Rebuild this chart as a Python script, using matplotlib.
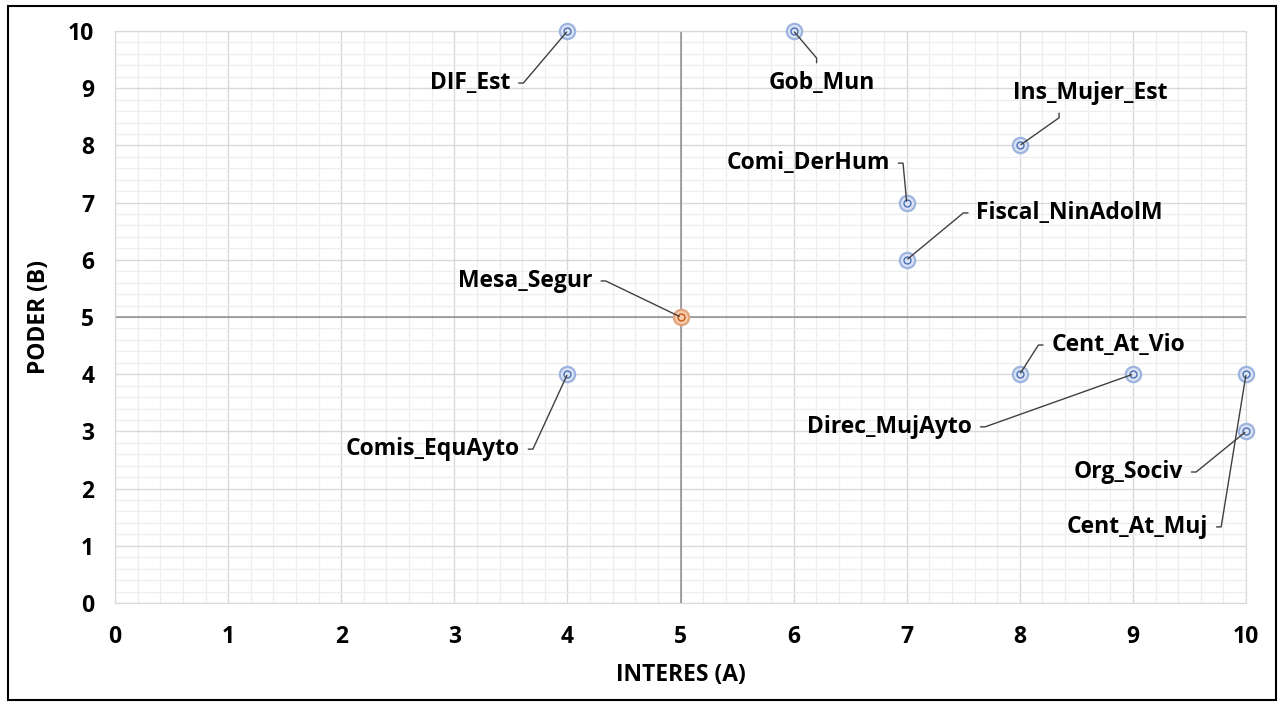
import matplotlib.pyplot as plt
from matplotlib.patches import Rectangle
from matplotlib.ticker import MultipleLocator

# stakeholder map: interest (A) vs power (B)
names = ['DIF_Est', 'Gob_Mun', 'Ins_Mujer_Est', 'Comi_DerHum', 'Fiscal_NinAdolM',
         'Mesa_Segur', 'Comis_EquAyto', 'Cent_At_Vio', 'Direc_MujAyto',
         'Org_Sociv', 'Cent_At_Muj']
interes = [4, 6, 8, 7, 7, 5, 4, 8, 9, 10, 10]
poder = [10, 10, 8, 7, 6, 5, 4, 4, 4, 3, 4]

# label placement (text centre, data units) and leader line style
label_pos = [(3.14, 9.09), (6.25, 9.09), (8.62, 8.92), (6.13, 7.69), (8.44, 6.82),
             (3.63, 5.63), (2.81, 2.69), (8.87, 4.51), (6.85, 3.08),
             (8.96, 2.29), (9.04, 1.33)]
# (relpos on text, direction of short stub)
leader = [((1, 0.5), 0), ((0.45, 1), 90), ((0.3, 0), -90), ((1, 0.5), 0),
          ((0, 0.5), 180), ((1, 0.5), 0), ((1, 0.5), 0), ((0, 0.5), 180),
          ((1, 0.5), 0), ((1, 0.5), 0), ((1, 0.5), 0)]

plt.rcParams['font.family'] = ['Open Sans', 'DejaVu Sans']
plt.rcParams['font.weight'] = 'bold'
FS = 16.5

fig = plt.figure(figsize=(12.78, 7.05), dpi=100)
ax = fig.add_axes([0.090, 0.1447, 0.885, 0.8113])

ax.set_xlim(0, 10)
ax.set_ylim(0, 10)
ax.xaxis.set_major_locator(MultipleLocator(1))
ax.yaxis.set_major_locator(MultipleLocator(1))
ax.xaxis.set_minor_locator(MultipleLocator(0.2))
ax.yaxis.set_minor_locator(MultipleLocator(0.2))
ax.grid(which='major', color='#d9d9d9', lw=1.0)
ax.grid(which='minor', color='#eeeeee', lw=0.9)
ax.set_axisbelow(True)
ax.tick_params(which='both', length=0)
ax.tick_params(axis='x', pad=16, labelsize=FS, labelcolor='black')
ax.tick_params(axis='y', pad=15, labelsize=FS, labelcolor='black')
for lab in ax.get_xticklabels() + ax.get_yticklabels():
    lab.set_fontweight('bold')
for s in ax.spines.values():
    s.set_color('#d9d9d9')

# quadrant lines
ax.axvline(5, color='#8c8c8c', lw=1.1, zorder=1)
ax.axhline(5, color='#8c8c8c', lw=1.1, zorder=1)

for i, name in enumerate(names):
    x, y = interes[i], poder[i]
    if name == 'Mesa_Segur':
        ring, face, core = '#e0a47c', '#f8cbad', '#c55a11'
    else:
        ring, face, core = '#9db4e0', '#dae3f3', '#4a6fb5'
    ax.plot(x, y, 'o', ms=11, mfc=face, mec=ring, mew=1.6, zorder=4, clip_on=False)
    ax.plot(x, y, 'o', ms=5, mfc='none', mec=core, mew=1.0, zorder=5, clip_on=False)
    rel, ang = leader[i]
    ax.annotate(name, xy=(x, y), xytext=label_pos[i], ha='center', va='center',
                fontsize=FS, fontweight='bold', color='black', zorder=6,
                arrowprops=dict(arrowstyle='-', color='#404040', lw=1.0,
                                shrinkA=4, shrinkB=1, relpos=rel,
                                connectionstyle=f'arc,angleA={ang},armA=13,angleB=0,armB=0,rad=0'))

ax.set_xlabel('INTERES (A)', fontsize=FS, fontweight='bold', color='black', labelpad=10)
ax.set_ylabel('PODER (B)', fontsize=FS, fontweight='bold', color='black', labelpad=12)

# outer chart border
fig.add_artist(Rectangle((0.0063, 0.007), 0.9922, 0.984, transform=fig.transFigure,
                         fill=False, edgecolor='black', lw=1.5))

fig.savefig('out.png', dpi=100)
